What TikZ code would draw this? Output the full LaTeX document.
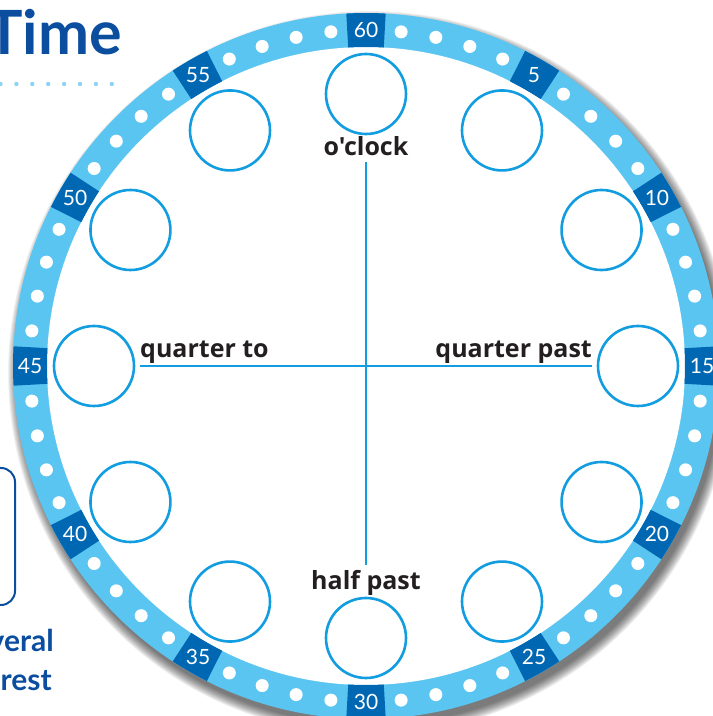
\documentclass[tikz,border=0pt]{standalone}
\usepackage{fontspec}
\setmainfont{Lato}
\newfontfamily\labfont{Open Sans}
\usetikzlibrary{calc}
\definecolor{ringblue}{HTML}{5BC5F2}
\definecolor{boxblue}{HTML}{0068B3}
\definecolor{circblue}{HTML}{129DE0}
\definecolor{navy}{HTML}{0B4EA0}
\definecolor{ink}{HTML}{231F20}
\definecolor{dotblue}{HTML}{8DD3F5}
\begin{document}
\begin{tikzpicture}[x=1pt,y=1pt,
  lbl/.style={font=\labfont\fontsize{25}{30}\selectfont\bfseries, text=ink, inner sep=0pt},
  navytext/.style={font=\fontsize{30}{36}\selectfont\bfseries, text=navy, inner sep=0pt, anchor=base east},
  numlbl/.style={font=\fontsize{21}{24}\selectfont, text=white, inner sep=0pt},
  facecirc/.style={draw=circblue, line width=2.6pt, fill=white, circle, minimum size=80pt, inner sep=0pt},
  guide/.style={draw=circblue, line width=1.8pt}]
\useasboundingbox (0,0) rectangle (713,716);
\clip (0,0) rectangle (713,716);
\coordinate (C) at (366,350);
% left-side fragments
\node[font=\fontsize{61}{70}\selectfont\bfseries, text=navy, inner sep=0pt, anchor=base east] (title) at (122,661) {Time};
\foreach \i in {0,...,7} { \fill[dotblue] ({0.5+\i*15.9},632) circle (2.2); }
\draw[navy, line width=2pt, rounded corners=14pt] (-40,248) rectangle (15,111);
\node[navytext] (t1) at (54,64) {veral};
\node[navytext] (t2) at (52,26) {rest};
% shadow
\foreach \k in {0,...,11} { \fill[black, opacity=0.06] ($(C)+(4,-7)$) circle ({352+\k*0.9}); }
% ring
\fill[ringblue] (C) circle (353);
\fill[white] (C) circle (319);
% dots
\foreach \m in {1,...,59} {
  \pgfmathtruncatemacro\r{mod(\m,5)}
  \ifnum\r>0 \fill[white] ($(C)+({90-6*\m}:336)$) circle (6.5); \fi
}
% number boxes
\foreach \m in {0,5,...,55} {
  \pgfmathsetmacro\a{90-6*\m}
  \pgfmathtruncatemacro\lab{ifthenelse(\m==0,60,\m)}
  \fill[boxblue] ($(C)+({\a-3.2}:319)$) arc[start angle={\a-3.2}, end angle={\a+3.2}, radius=319]
     -- ($(C)+({\a+3.2}:353)$) arc[start angle={\a+3.2}, end angle={\a-3.2}, radius=353] -- cycle;
  \node[numlbl] (n\m) at ($(C)+(\a:336)$) {\lab};
}
% face circles
\foreach \m in {0,5,...,55} {
  \node[facecirc] (f\m) at ($(C)+({90-6*\m}:272)$) {};
}
% labels
\node[lbl, anchor=base] (oc) at (366,560) {o'clock};
\node[lbl, anchor=base west] (qt) at (140,358) {quarter to};
\node[lbl, anchor=base east] (qp) at (592,358) {quarter past};
\node[lbl, anchor=base] (hp) at (366,126) {half past};
% guide lines
\coordinate (vt) at (366,554);
\coordinate (vb) at (366,151);
\coordinate (hl) at (140,350);
\coordinate (hr) at (592,350);
\draw[guide] (vt) -- (vb);
\draw[guide] (hl) -- (hr);
\end{tikzpicture}
\end{document}
